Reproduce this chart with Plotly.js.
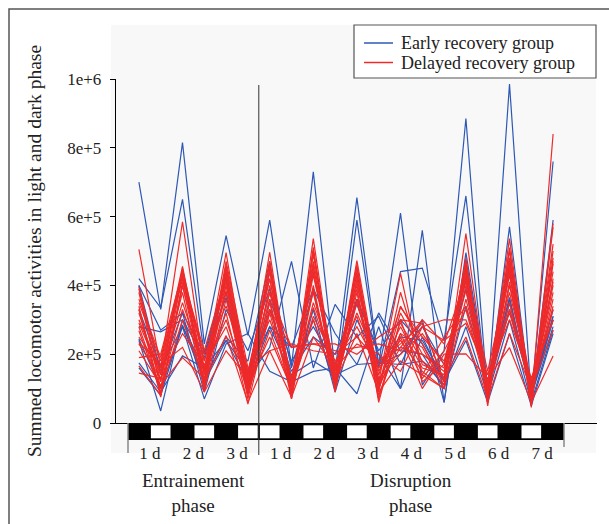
<!DOCTYPE html>
<html>
<head>
<meta charset="utf-8">
<script src="https://cdn.plot.ly/plotly-3.0.1.min.js"></script>
<style>html,body{margin:0;padding:0;background:#fff;}#chart{width:609px;height:524px;}</style>
</head>
<body>
<div id="chart"></div>
<script>
// ---- data (values in units of 1000 counts) ----
var pointIndex = [0,1,2,3,4,5,6,7,8,9,10,11,12,13,14,15,16,17,18,19];
// light/dark schedule per half-day segment (D = dark, L = light)
var lightDark = ['D','L','D','L','D','L','L','D','L','D','L','D','L','D','L','D','L','D','L','D'];
var dayTickPos = [0.5,2.5,4.5,6.5,8.5,10.5,12.5,14.5,16.5,18.5];
var dayTickText = ['1 d','2 d','3 d','1 d','2 d','3 d','4 d','5 d','6 d','7 d'];
var yTickVals = [0,200000,400000,600000,800000,1000000];
var yTickText = ['0','2e+5','4e+5','6e+5','8e+5','1e+6'];
var phaseBoundary = 5.5;
var phaseLabelPos = [2.5, 12.5];
var phaseLabels = ['Entrainement<br>phase','Disruption<br>phase'];
var groupNames = ['Early recovery group','Delayed recovery group'];

var early1  = [700,330,815,230,545,255,590,165,730,150,655,170,610,110,210,885,75,985,70,760];
var early2  = [420,335,650,200,430,140,440,160,385,100,590,160,440,450,240,660,70,570,60,590];
var early3  = [400,270,320,200,365,130,220,470,160,345,250,310,170,300,60,495,110,365,90,310];
var early4  = [330,160,280,160,380,100,360,180,280,170,360,200,100,560,60,470,110,480,80,300];
var early5  = [280,265,300,130,250,180,470,100,330,90,300,170,200,280,170,390,90,350,90,310];
var early6  = [245,100,280,70,230,260,150,120,150,160,85,280,100,250,120,240,60,260,50,260];
var early7  = [175,90,195,160,240,150,280,140,180,140,170,175,170,180,110,280,80,300,60,270];
var early8  = [160,80,285,120,240,120,330,150,250,200,345,170,250,240,130,450,100,440,100,330];
var early9  = [400,150,320,90,330,210,390,130,300,110,360,210,300,230,120,420,110,330,90,300];
var early10 = [240,35,300,190,420,110,280,220,390,260,170,320,210,200,100,340,120,360,80,280];

var delayed1  = [505,160,585,150,495,120,496,90,536,110,472,120,435,140,100,551,90,536,60,840];
var delayed2  = [390,120,450,100,440,80,450,70,511,95,440,60,300,290,120,450,50,472,45,569];
var delayed3  = [380,100,430,180,400,90,400,110,440,130,400,140,336,250,180,423,100,452,80,463];
var delayed4  = [350,180,420,140,385,70,350,80,400,100,360,100,260,220,100,400,120,430,70,420];
var delayed5  = [330,75,410,200,340,150,300,120,336,150,320,170,220,200,150,385,80,400,100,380];
var delayed6  = [291,140,350,160,300,110,250,100,300,120,260,90,180,140,250,340,110,350,90,330];
var delayed7  = [268,90,300,120,254,60,210,75,250,160,230,200,150,280,300,300,140,300,120,300];
var delayed8  = [234,170,220,90,210,130,380,220,230,230,200,250,290,180,130,250,70,260,100,270];
var delayed9  = [210,110,190,130,440,100,470,100,430,140,390,80,250,100,200,201,130,219,60,195];
var delayed10 = [190,200,440,110,460,140,420,85,490,120,450,110,340,230,110,480,60,480,70,500];
var delayed11 = [166,80,400,160,420,120,380,110,460,90,420,150,280,160,140,440,100,460,110,440];
var delayed12 = [145,130,380,95,360,85,330,130,380,105,350,130,200,260,170,410,80,410,90,360];
var delayed13 = [300,150,440,120,470,160,210,230,210,200,250,180,230,290,120,430,150,440,50,470];
var delayed14 = [360,190,425,210,430,100,440,120,470,150,430,100,320,200,160,460,110,500,80,520];
var delayed15 = [280,100,330,150,320,55,320,90,350,170,310,120,260,130,210,330,90,330,130,300];
var delayed16 = [250,160,455,140,450,130,460,100,500,110,460,90,380,170,140,470,70,510,70,580];
var delayed17 = [320,120,445,180,410,95,330,220,230,210,220,230,210,280,240,290,140,320,100,340];
var delayed18 = [395,140,435,100,400,150,420,130,450,160,410,110,220,300,230,420,100,470,60,480];
var delayed19 = [230,130,260,170,280,90,270,100,310,180,280,160,240,150,100,360,120,380,120,410];
var delayed20 = [340,85,400,120,380,110,360,70,390,100,380,70,300,120,170,440,60,450,90,400];

var earlyGroup = [early1,early2,early3,early4,early5,early6,early7,early8,early9,early10];
var delayedGroup = [delayed1,delayed2,delayed3,delayed4,delayed5,delayed6,delayed7,delayed8,delayed9,delayed10,
                    delayed11,delayed12,delayed13,delayed14,delayed15,delayed16,delayed17,delayed18,delayed19,delayed20];

var BLUE = '#2f58b4';
var RED = '#ee2a2a';
var groupColors = [BLUE, RED];
var SERIF = 'Liberation Serif, Times New Roman, serif';

var traces = [];
function addGroup(group, name, color) {
  group.forEach(function (vals) {
    traces.push({
      type: 'scatter', mode: 'lines',
      x: pointIndex,
      y: vals.map(function (v) { return v * 1000; }),
      line: {color: color, width: 1.2},
      name: name, legendgroup: name, showlegend: false,
      hoverinfo: 'skip'
    });
  });
}
addGroup(earlyGroup, groupNames[0], BLUE);
addGroup(delayedGroup, groupNames[1], RED);

// geometry helpers (plot area: left 116, right 597, top 79, bottom 423)
var PL = 116, PR = 597, PT = 79, PB = 423;
function px(xp) { return (xp - PL) / (PR - PL); }
function py(yp) { return (PB - yp) / (PB - PT); }

var shapes = [];
// light grey panel
shapes.push({type: 'rect', xref: 'paper', yref: 'paper', x0: px(111), x1: px(596), y0: py(453), y1: py(25),
  fillcolor: '#f8f8f8', line: {width: 0}, layer: 'below'});
// outer frame (left + top)
shapes.push({type: 'path', xref: 'paper', yref: 'paper',
  path: 'M' + px(9) + ',' + py(530) + ' L' + px(9) + ',' + py(9) + ' L' + px(615) + ',' + py(9),
  line: {color: '#555', width: 1.5}});
// light/dark bar
shapes.push({type: 'rect', xref: 'x', yref: 'paper', x0: -0.5, x1: lightDark.length - 0.5, y0: py(440), y1: py(423),
  fillcolor: '#000', line: {width: 0}});
lightDark.forEach(function (p, i) {
  if (p === 'L') {
    shapes.push({type: 'rect', xref: 'x', yref: 'paper', x0: i - 0.45, x1: i + 0.45, y0: py(438.3), y1: py(425.3),
      fillcolor: '#fff', line: {width: 0}});
  }
});
// end ticks of the bar
shapes.push({type: 'line', xref: 'x', yref: 'paper', x0: -0.5, x1: -0.5, y0: py(423), y1: py(453),
  line: {color: '#888', width: 1.5}});
shapes.push({type: 'line', xref: 'x', yref: 'paper', x0: lightDark.length - 0.5, x1: lightDark.length - 0.5, y0: py(423), y1: py(447),
  line: {color: '#888', width: 1.5}});
// phase separator
shapes.push({type: 'line', xref: 'x', yref: 'paper', x0: phaseBoundary, x1: phaseBoundary, y0: py(455), y1: py(85),
  line: {color: '#333', width: 1}});

// legend box (drawn by hand to match the original's compact spacing)
shapes.push({type: 'rect', xref: 'paper', yref: 'paper', x0: px(354), x1: px(596), y0: py(78), y1: py(25),
  fillcolor: '#fff', line: {color: '#555', width: 1.2}});
var legendRowY = [43, 62.5];
groupNames.forEach(function (n, k) {
  shapes.push({type: 'line', xref: 'paper', yref: 'paper', x0: px(364), x1: px(393),
    y0: py(legendRowY[k]), y1: py(legendRowY[k]), line: {color: groupColors[k], width: 1.5}});
});

var annotations = phaseLabels.map(function (t, k) {
  return {xref: 'x', yref: 'paper', x: phaseLabelPos[k], y: py(492.5), text: t, showarrow: false,
    xanchor: 'center', yanchor: 'middle', font: {family: SERIF, size: 19, color: '#222'}};
});
groupNames.forEach(function (n, k) {
  annotations.push({xref: 'paper', yref: 'paper', x: px(399), y: py(legendRowY[k]), text: n, showarrow: false,
    xanchor: 'left', yanchor: 'middle', font: {family: SERIF, size: 18, color: '#222'}});
});

var layout = {
  width: 609, height: 524,
  margin: {l: PL, r: 609 - PR, t: PT, b: 524 - PB, pad: 0},
  paper_bgcolor: '#fff', plot_bgcolor: 'rgba(0,0,0,0)',
  showlegend: false,
  xaxis: {range: [(PL - 138.9) / 21.8, (PR - 138.9) / 21.8], showgrid: false, zeroline: false,
    showline: true, linecolor: '#000', linewidth: 1.3, ticks: '',
    tickmode: 'array', tickvals: dayTickPos, ticktext: dayTickText, ticklabelstandoff: 14,
    tickfont: {family: SERIF, size: 17, color: '#222'}, fixedrange: true},
  yaxis: {range: [0, 1000000], showgrid: false, zeroline: false,
    showline: true, linecolor: '#000', linewidth: 1.3, ticks: 'outside', ticklen: 5, tickcolor: '#000',
    tickmode: 'array', tickvals: yTickVals, ticktext: yTickText, ticklabelstandoff: 5,
    tickfont: {family: SERIF, size: 17, color: '#222'},
    title: {text: 'Summed locomotor activities in light and dark phase', standoff: 20,
      font: {family: SERIF, size: 19.5, color: '#222'}}, fixedrange: true},
  shapes: shapes,
  annotations: annotations
};

Plotly.newPlot('chart', traces, layout, {displayModeBar: false, staticPlot: true});
</script>
</body>
</html>
